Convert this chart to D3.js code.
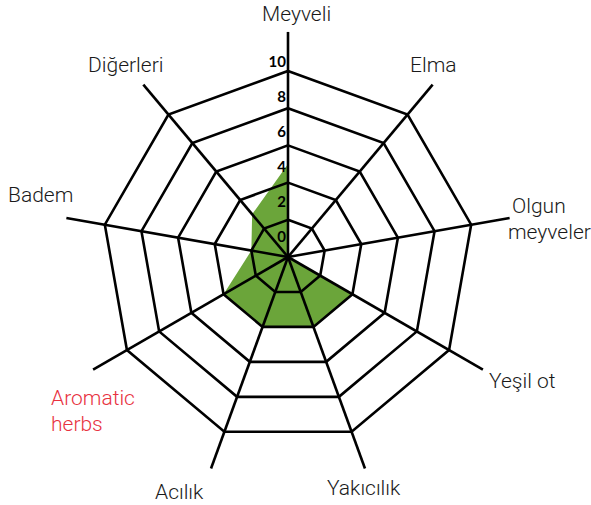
<!DOCTYPE html>
<html>
<head>
<meta charset="utf-8">
<script src="https://cdn.jsdelivr.net/npm/d3@7"></script>
<style>
  body { margin: 0; background: #fff; }
</style>
</head>
<body>
<script>
// axes, clockwise from the top
var categories = ["Meyveli", "Elma", "Olgun meyveler", "Yeşil ot", "Yakıcılık", "Acılık", "Aromatic herbs", "Badem", "Diğerleri"];
var values = [5, 0, 0, 4, 4, 4, 4, 2, 3];
var ringValues = [2, 4, 6, 8, 10];
var tickLabels = [0, 2, 4, 6, 8, 10];
// label lines + where they sit (start x, baseline y)
var labelLines = [["Meyveli"], ["Elma"], ["Olgun", "meyveler"], ["Yeşil ot"], ["Yakıcılık"], ["Acılık"], ["Aromatic", "herbs"], ["Badem"], ["Diğerleri"]];
var labelPos = [[262, 21], [410, 72], [512, 213], [489, 388], [327, 495], [155, 499], [51, 405], [8, 202], [88, 72]];

var width = 591, height = 505;
var cx = 288, cy = 257, R = 186;

var svg = d3.select("body")
	.append("svg")
	.attr("width", width)
	.attr("height", height);

var r = d3.scaleLinear().domain([0, 10]).range([0, R]);
var angle = d3.scaleLinear().domain([0, categories.length]).range([-Math.PI / 2, Math.PI * 1.5]);
// tick labels are spaced a bit tighter than the rings
var tickY = d3.scaleLinear().domain([0, 10]).range([cy - 15, cy - 190]);

var point = function(i, v){
	var a = angle(i);
	return [cx + r(v) * Math.cos(a), cy + r(v) * Math.sin(a)];
};

//green area first, grid goes on top
svg.append("polygon")
	.attr("points", values.map(function(v, i){ return point(i, v).join(","); }).join(" "))
	.attr("fill", "#6ba53a");

svg.selectAll("polygon.ring")
	.data(ringValues)
	.enter()
	.append("polygon")
	.attr("class", "ring")
	.attr("points", function(rv){
		return categories.map(function(c, i){ return point(i, rv).join(","); }).join(" ");
	})
	.attr("fill", "none")
	.attr("stroke", "#000")
	.attr("stroke-width", 2.6)
	.attr("stroke-linejoin", "miter");

svg.selectAll("line.spoke")
	.data(categories)
	.enter()
	.append("line")
	.attr("class", "spoke")
	.attr("x1", cx)
	.attr("y1", cy)
	.attr("x2", function(d, i){ return point(i, 12.1)[0]; })
	.attr("y2", function(d, i){ return point(i, 12.1)[1]; })
	.attr("stroke", "#000")
	.attr("stroke-width", 2.6);

svg.selectAll("text.tick")
	.data(tickLabels)
	.enter()
	.append("text")
	.attr("class", "tick")
	.attr("x", cx - 2)
	.attr("y", function(d){ return tickY(d); })
	.attr("text-anchor", "end")
	.attr("font-family", "Lato")
	.attr("font-weight", "bold")
	.attr("font-size", 15)
	.attr("fill", "#000")
	.text(function(d){ return d; });

var labels = svg.selectAll("text.label")
	.data(categories)
	.enter()
	.append("text")
	.attr("class", "label")
	.attr("font-family", "Roboto")
	.attr("font-weight", 300)
	.attr("font-size", 21)
	.attr("fill", function(d){ return d === "Aromatic herbs" ? "#e8323f" : "#1a1a1a"; });

labels.each(function(d, i){
	var t = d3.select(this);
	labelLines[i].forEach(function(line, k){
		t.append("tspan")
			.attr("x", labelPos[i][0] - (k === 1 && i === 2 ? 4 : 0))
			.attr("y", labelPos[i][1] + k * 26)
			.text(line);
	});
});
</script>
</body>
</html>
